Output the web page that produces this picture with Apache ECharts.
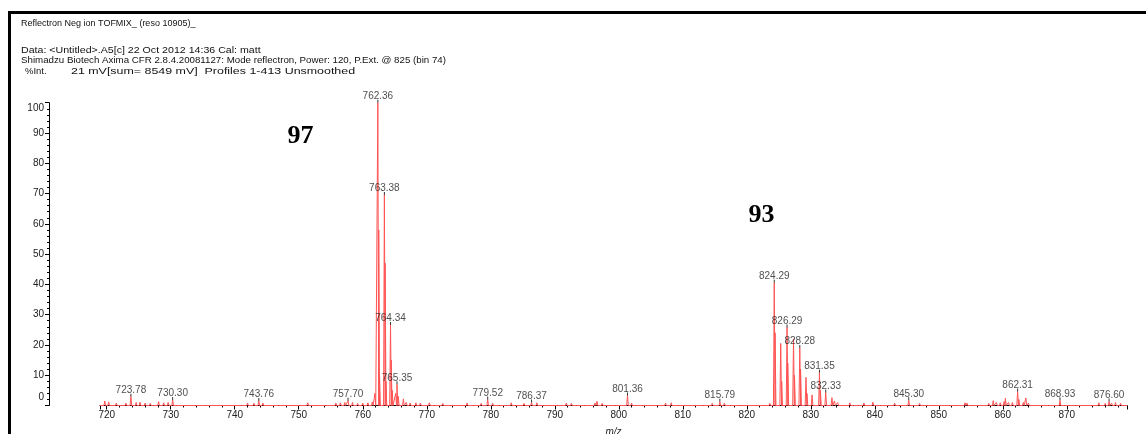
<!DOCTYPE html>
<html>
<head>
<meta charset="utf-8">
<title>Reflectron Neg ion TOFMIX</title>
<script src="https://cdn.jsdelivr.net/npm/echarts@6/dist/echarts.min.js"></script>
<style>
  html, body { margin: 0; padding: 0; background: #fff; }
  #chart { width: 1146px; height: 434px; }
</style>
</head>
<body>
<div id="chart"></div>
<script>
// Peaks annotated with their m/z: [m/z, %Int]
const labeledPeaks = [
  [723.78, 2.9], [730.30, 1.8], [743.76, 1.5], [757.70, 1.6],
  [762.36, 100], [763.38, 69.5], [764.34, 26.6], [765.35, 7.0],
  [779.52, 2.0], [786.37, 1.0], [801.36, 3.3], [815.79, 1.2],
  [824.29, 40.5], [826.29, 25.8], [828.28, 19.0], [831.35, 10.8], [832.33, 4.3],
  [845.30, 1.7], [862.31, 4.6], [868.93, 1.7], [876.60, 1.3]
];

// Unlabelled isotope shoulders and neighbouring peaks in the two clusters
const clusterPeaks = [
  [761.90, 4.0], [762.50, 58], [762.62, 10], [763.50, 47], [763.62, 8],
  [764.45, 15], [764.60, 5], [765.15, 4.0], [765.55, 3.0], [766.35, 2.2],
  [824.42, 24], [825.30, 20.5], [825.45, 8], [826.40, 14], [827.30, 22],
  [827.45, 10], [828.40, 12], [829.25, 9.3], [829.40, 4], [830.20, 3.5],
  [831.50, 5], [833.30, 2.6], [833.70, 1.5], [834.20, 1.0]
];

// Baseline noise spikes
const noisePeaks = [
  [719.70, 1.5], [720.30, 1.2], [721.50, 0.8], [722.40, 0.6], [723.00, 0.8],
  [724.60, 1.0], [725.20, 1.1], [726.00, 0.8], [726.80, 0.7], [727.50, 0.6],
  [728.10, 1.3], [728.90, 0.9], [729.60, 1.0], [731.00, 0.6], [732.40, 0.5],
  [734.00, 0.5], [735.60, 0.5], [737.20, 0.5], [738.90, 0.5], [741.20, 0.6],
  [742.00, 0.8], [743.00, 0.7], [744.40, 0.8], [745.50, 0.6], [747.00, 0.5],
  [748.60, 0.5], [750.20, 0.6], [751.40, 0.9], [752.80, 0.5], [754.30, 0.5],
  [755.80, 0.8], [756.50, 0.9], [757.20, 1.0], [758.40, 1.0], [759.20, 0.7],
  [760.00, 0.8], [760.80, 0.9], [761.50, 1.2], [766.80, 1.0], [767.40, 0.8],
  [768.30, 0.9], [769.00, 0.8], [770.40, 0.9], [771.30, 0.6], [772.50, 0.7],
  [773.80, 0.6], [775.00, 0.5], [776.30, 0.8], [777.50, 0.5], [778.50, 0.7],
  [780.30, 0.7], [781.50, 0.5], [782.60, 0.6], [783.20, 0.9], [784.00, 0.5],
  [785.20, 0.7], [787.20, 0.9], [788.40, 0.5], [789.40, 0.4], [790.60, 0.5],
  [791.80, 0.8], [792.60, 0.7], [793.50, 0.6], [794.80, 0.5], [796.30, 0.8],
  [796.60, 1.4], [797.40, 0.7], [798.30, 0.6], [799.60, 0.5], [802.00, 0.8],
  [802.80, 0.6], [803.80, 0.5], [805.00, 0.5], [806.20, 0.6], [807.30, 0.8],
  [808.20, 0.9], [809.50, 0.5], [810.80, 0.5], [812.00, 0.6], [813.40, 0.5],
  [814.60, 0.7], [816.50, 0.8], [817.60, 0.6], [819.00, 0.5], [820.30, 0.5],
  [821.60, 0.6], [822.70, 0.5], [823.60, 0.7], [835.00, 0.6], [836.10, 0.9],
  [836.80, 0.5], [837.60, 0.5], [838.30, 0.8], [839.70, 1.1], [841.00, 0.5],
  [842.30, 0.6], [843.10, 0.8], [844.00, 0.5], [846.20, 0.6], [847.00, 0.7],
  [847.70, 0.6], [848.40, 0.5], [849.50, 0.4], [850.80, 0.5], [851.80, 0.6],
  [852.70, 0.5], [854.10, 0.9], [854.40, 0.8], [855.40, 0.5], [856.40, 0.6],
  [857.20, 0.5], [857.80, 0.7], [858.50, 1.6], [859.00, 1.0], [859.60, 0.9],
  [860.20, 1.3], [860.40, 2.4], [860.90, 1.0], [861.50, 1.0], [862.50, 2.0],
  [863.20, 1.0], [863.60, 2.5], [864.00, 0.8], [865.00, 0.5], [866.40, 0.5],
  [867.30, 0.6], [869.80, 0.5], [870.60, 0.6], [871.50, 0.5], [872.80, 0.5],
  [874.00, 0.6], [875.00, 0.9], [876.00, 0.7], [877.00, 0.8], [877.60, 1.0],
  [878.40, 0.7], [879.00, 0.6]
];

const yTicks = [0, 10, 20, 30, 40, 50, 60, 70, 80, 90, 100];

const headerLines = [
  'Reflectron Neg ion TOFMIX_ (reso 10905)_',
  'Data: <Untitled>.A5[c] 22 Oct 2012 14:36 Cal: matt',
  'Shimadzu Biotech Axima CFR 2.8.4.20081127: Mode reflectron, Power: 120, P.Ext. @ 825 (bin 74)'
];
const intLabel = '%Int.';
const intInfo = '21 mV[sum= 8549 mV]  Profiles 1-413 Unsmoothed';
const clusterTags = ['97', '93'];

// m/z window of the trace
const MZ_MIN = 718.95;
const MZ_MAX = 879.4;
const SPIKE_HALF_WIDTH = 0.13;

// Build the profile trace: every peak rises from the baseline and falls back to it
const allPeaks = labeledPeaks.concat(clusterPeaks, noisePeaks).sort((a, b) => a[0] - b[0]);
const trace = [[MZ_MIN, 0]];
allPeaks.forEach(([mz, h]) => {
  trace.push([mz - SPIKE_HALF_WIDTH, 0], [mz, h], [mz + SPIKE_HALF_WIDTH, 0]);
});
trace.push([MZ_MAX, 0]);

const chart = echarts.init(document.getElementById('chart'), null, { renderer: 'canvas' });
const SANS = '"Liberation Sans", Arial, sans-serif';
const SERIF = '"Liberation Serif", "Times New Roman", serif';

function headerText(text, x, y, sx) {
  return {
    type: 'text', x: x, y: y, scaleX: sx, silent: true,
    style: { text: text, font: '9px ' + SANS, fill: '#111', verticalAlign: 'middle' }
  };
}

chart.setOption({
  animation: false,
  backgroundColor: '#ffffff',
  grid: { left: 100, right: 19, top: 102.7, bottom: 28.5, containLabel: false, outerBoundsMode: 'none' },
  xAxis: {
    type: 'value',
    min: MZ_MIN,
    max: MZ_MAX,
    splitNumber: 16,
    name: 'm/z',
    nameLocation: 'middle',
    nameGap: 22,
    nameTextStyle: { fontFamily: SANS, fontSize: 10, fontStyle: 'italic', color: '#222' },
    axisLine: { show: true, lineStyle: { color: '#000', width: 1 } },
    axisTick: { show: true, length: 4, lineStyle: { color: '#000' } },
    minorTick: { show: true, splitNumber: 5, length: 2, lineStyle: { color: '#000' } },
    splitLine: { show: false },
    axisLabel: {
      fontFamily: SANS, fontSize: 10, color: '#222', margin: 5,
      showMinLabel: false, showMaxLabel: false,
      formatter: v => String(Math.round(v))
    }
  },
  yAxis: {
    type: 'value',
    min: yTicks[0],
    max: yTicks[yTicks.length - 1],
    interval: 10,
    offset: 51,
    axisLine: { show: true, lineStyle: { color: '#000', width: 1 } },
    axisTick: { show: true, length: 4, lineStyle: { color: '#000' } },
    minorTick: { show: true, splitNumber: 5, length: 2, lineStyle: { color: '#000' } },
    splitLine: { show: false },
    axisLabel: {
      fontFamily: SANS, fontSize: 10, color: '#222', margin: 5,
      // end labels are pulled inward, inside the axis span
      formatter: v => v === yTicks[0] ? '{lo|' + v + '}' : v === yTicks[yTicks.length - 1] ? '{hi|' + v + '}' : String(v),
      rich: {
        lo: { fontFamily: SANS, fontSize: 10, color: '#222', padding: [0, 0, 17, 0] },
        hi: { fontFamily: SANS, fontSize: 10, color: '#222', padding: [11, 0, 0, 0] }
      }
    }
  },
  series: [
    {
      name: 'profile',
      type: 'line',
      data: trace,
      showSymbol: false,
      symbol: 'none',
      lineStyle: { color: '#ff5454', width: 1 },
      z: 3
    },
    {
      name: 'peak labels',
      type: 'scatter',
      data: labeledPeaks,
      symbol: 'rect',
      symbolSize: [1, 3],
      symbolOffset: [0, -1.5],
      itemStyle: { color: '#000' },
      clip: false,
      z: 4,
      label: {
        show: true,
        position: 'top',
        distance: -2,
        fontFamily: SANS,
        fontSize: 10,
        lineHeight: 11,
        color: '#222',
        formatter: p => p.value[0].toFixed(2)
      }
    }
  ],
  graphic: [
    // frame edges
    { type: 'rect', shape: { x: 8, y: 11, width: 1138, height: 3 }, style: { fill: '#000' }, silent: true },
    { type: 'rect', shape: { x: 8, y: 11, width: 3, height: 423 }, style: { fill: '#000' }, silent: true },
    // header block
    headerText(headerLines[0], 21, 23.5, 1.0),
    headerText(headerLines[1], 21, 50.5, 1.18),
    headerText(headerLines[2], 21, 61, 1.08),
    headerText(intLabel, 25, 71.5, 1.05),
    headerText(intInfo, 71, 71.5, 1.38),
    // cluster tags
    { type: 'text', x: 300.5, y: 136, silent: true, style: { text: clusterTags[0], font: 'bold 26px ' + SERIF, fill: '#000', align: 'center', verticalAlign: 'middle' } },
    { type: 'text', x: 761.5, y: 215, silent: true, style: { text: clusterTags[1], font: 'bold 26px ' + SERIF, fill: '#000', align: 'center', verticalAlign: 'middle' } }
  ]
});
</script>
</body>
</html>
